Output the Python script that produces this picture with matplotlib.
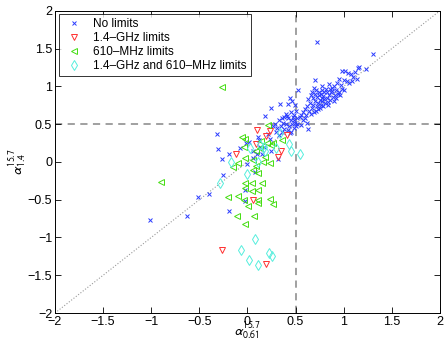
import matplotlib
matplotlib.use("Agg")
import matplotlib.pyplot as plt

plt.rcParams['font.family'] = ['Liberation Sans', 'DejaVu Sans']
plt.rcParams['mathtext.fontset'] = 'stixsans'

# --- data ---
no_lim_x = [0.72, 1.31, 1.23, 1.16, 1.15, 0.98, 1.01, 1.05, 1.08, 1.12, 1.10, 1.14, 1.03, 1.06, 1.09, 1.00,
            0.95, 0.93, 0.97, 0.70, 0.85, 0.88, 0.90, 0.92, 0.95, 0.98, 1.00, 0.82, 0.80, 0.78, 0.76, 0.74,
            0.72, 0.70, 0.68, 0.66, 0.85, 0.87, 0.83, 0.80, 0.78, 0.75, 0.73, 0.70, 0.68, 0.65, 0.63, 0.62,
            0.60, 0.64, 0.67, 0.72, 0.76, 0.81, 0.86, 0.89, 0.91, 0.94, 0.79, 0.77, 0.74, 0.71, 0.69, 0.83,
            0.88, 0.75, 0.71, 0.66, 0.58, 0.56, 0.61, 0.69, 0.79, 0.84, 0.53, 0.44, 0.46, 0.42, 0.49, 0.34,
            0.25, 0.18, 0.40, 0.38, 0.45, 0.50, 0.48, 0.42, 0.45, 0.47, 0.52, 0.55, 0.41, 0.36, 0.33, 0.37,
            0.40, 0.43, 0.46, 0.49, 0.52, 0.56, 0.63, 0.35, 0.31, 0.38, 0.42, 0.45, 0.48, 0.44, 0.36, 0.30,
            0.33, 0.48, 0.50, 0.29, 0.27, 0.60, 0.62, 0.58, 0.86, 0.92, 0.78, 0.84, 0.96, 0.73, 0.67, 0.90,
            -0.32, -0.31, -0.26, -0.19, -0.25, -0.40, -0.51, -0.63, -1.01, -0.19, -0.02, -0.02, -0.08,
            -0.01, 0.00, 0.06, 0.08, 0.11, 0.12, 0.13, 0.23, 0.25, 0.32, 0.21, 0.15, 0.10, 0.02, 0.06, 0.17]
no_lim_y = [1.59, 1.43, 1.23, 1.26, 1.24, 1.21, 1.21, 1.18, 1.16, 1.19, 1.12, 1.10, 1.07, 1.05, 1.07, 1.08,
            1.10, 1.05, 1.02, 1.08, 1.03, 0.98, 1.00, 0.95, 0.93, 0.97, 0.95, 0.97, 0.92, 0.95, 0.90, 0.88,
            0.86, 0.90, 0.84, 0.88, 0.88, 0.92, 0.85, 0.83, 0.80, 0.82, 0.78, 0.80, 0.76, 0.78, 0.83, 0.74,
            0.70, 0.68, 0.72, 0.74, 0.76, 0.78, 0.82, 0.86, 0.89, 0.90, 0.87, 0.85, 0.93, 0.95, 0.98, 0.92,
            0.94, 0.72, 0.68, 0.64, 0.66, 0.62, 0.62, 0.66, 0.74, 0.79, 0.95, 0.84, 0.80, 0.77, 0.75, 0.77,
            0.71, 0.61, 0.64, 0.60, 0.66, 0.68, 0.62, 0.58, 0.55, 0.60, 0.58, 0.60, 0.61, 0.58, 0.55, 0.52,
            0.50, 0.47, 0.50, 0.52, 0.50, 0.49, 0.44, 0.47, 0.45, 0.44, 0.42, 0.40, 0.45, 0.38, 0.40, 0.40,
            0.35, 0.56, 0.48, 0.50, 0.48, 0.58, 0.52, 0.55, 0.96, 0.84, 1.00, 0.75, 0.88, 0.70, 0.92, 0.80,
            0.37, 0.17, 0.04, 0.11, -0.17, -0.42, -0.46, -0.71, -0.77, -0.65, -0.52, -0.37, 0.19,
            0.25, -0.03, 0.14, -0.13, 0.33, 0.29, 0.20, 0.31, 0.14, 0.04, 0.37, 0.11, 0.10, 0.26, 0.05, 0.20]

ghz_lim_x = [0.10, 0.23, 0.19, 0.09, -0.12, 0.35, 0.32, 0.41, 0.06, -0.26, 0.19]
ghz_lim_y = [0.42, 0.41, 0.34, 0.24, 0.11, 0.14, 0.06, 0.36, -0.50, -1.17, -1.35]

mhz_lim_x = [-0.26, -0.90, 0.21, -0.06, -0.03, -0.04, 0.13, 0.09, 0.20, 0.27, 0.36, -0.03, -0.10, -0.15,
             0.06, 0.09, 0.16, 0.23, 0.06, 0.11, -0.03, 0.05, 0.15, -0.03, 0.05, 0.11, -0.20, -0.10, -0.04,
             0.11, 0.11, 0.23, 0.27, 0.01, -0.11, 0.07, -0.02, 0.18, 0.25, 0.14]
mhz_lim_y = [0.99, -0.27, 0.49, 0.33, 0.30, 0.20, 0.18, 0.14, 0.25, 0.25, 0.29, 0.05, -0.02, -0.07,
             0.03, -0.05, 0.00, -0.02, -0.11, -0.14, -0.28, -0.28, -0.28, -0.35, -0.39, -0.37, -0.46, -0.45, -0.50,
             -0.50, -0.54, -0.49, -0.56, -0.58, -0.71, -0.71, -0.82, 0.06, 0.22, 0.28]

both_lim_x = [-0.17, -0.28, 0.00, 0.03, 0.13, 0.17, 0.18, 0.30, 0.43, 0.45, 0.55, 0.11, 0.08, -0.07, 0.02,
              0.11, 0.22, 0.26, 0.34]
both_lim_y = [0.00, -0.28, -0.16, 0.18, 0.22, 0.20, 0.14, 0.19, 0.24, 0.15, 0.11, 0.00, -1.02, -1.17, -1.30,
              -1.37, -1.21, -1.24, 0.38]

labels = ['No limits', '1.4\u2013GHz limits', '610\u2013MHz limits', '1.4\u2013GHz and 610\u2013MHz limits']
ticks = [-2, -1.5, -1, -0.5, 0, 0.5, 1, 1.5, 2]
tick_labels = ['\u22122', '\u22121.5', '\u22121', '\u22120.5', '0', '0.5', '1', '1.5', '2']

fig = plt.figure(figsize=(4.47, 3.49), dpi=100)
ax = fig.add_axes([0.123, 0.103, 0.861, 0.866])

ax.plot([-2, 2], [-2, 2], linestyle=':', color='#999999', linewidth=0.8, zorder=1)
ax.axvline(0.5, color='#999999', linestyle=(0, (4, 3)), linewidth=1.3, zorder=1)
ax.axhline(0.5, color='#999999', linestyle=(0, (4, 3)), linewidth=1.3, zorder=1)

ax.plot(no_lim_x, no_lim_y, 'x', color='#2a3cff', markersize=3.3, markeredgewidth=0.7,
        linestyle='none', label=labels[0], zorder=3)
ax.plot(ghz_lim_x, ghz_lim_y, 'v', markerfacecolor='none', markeredgecolor='#ff3030', markersize=4.6,
        markeredgewidth=0.7, linestyle='none', label=labels[1], zorder=3)
ax.plot(mhz_lim_x, mhz_lim_y, '<', markerfacecolor='none', markeredgecolor='#44dd11', markersize=4.6,
        markeredgewidth=0.7, linestyle='none', label=labels[2], zorder=3)
ax.plot(both_lim_x, both_lim_y, 'd', markerfacecolor='none', markeredgecolor='#55eedd', markersize=4.8,
        markeredgewidth=0.7, linestyle='none', label=labels[3], zorder=3)

ax.set_xlim(-2, 2)
ax.set_ylim(-2, 2)
ax.set_xticks(ticks)
ax.set_xticklabels(tick_labels)
ax.set_yticks(ticks)
ax.set_yticklabels(tick_labels)
ax.tick_params(direction='in', top=True, right=True, length=4, width=0.6, labelsize=9, pad=2)
for s in ax.spines.values():
    s.set_linewidth(0.7)

ax.set_xlabel(r'$\alpha^{15.7}_{0.61}$', fontsize=10, labelpad=-6)
ax.set_ylabel(r'$\alpha^{15.7}_{1.4}$', fontsize=10, labelpad=0)

leg = ax.legend(loc='upper left', fontsize=8.5, frameon=True, fancybox=False, borderaxespad=0.3,
                handlelength=2.0, handletextpad=0.6, borderpad=0.35, labelspacing=0.15)
leg.get_frame().set_edgecolor('black')
leg.get_frame().set_linewidth(0.7)

fig.savefig('out.png', dpi=100)
